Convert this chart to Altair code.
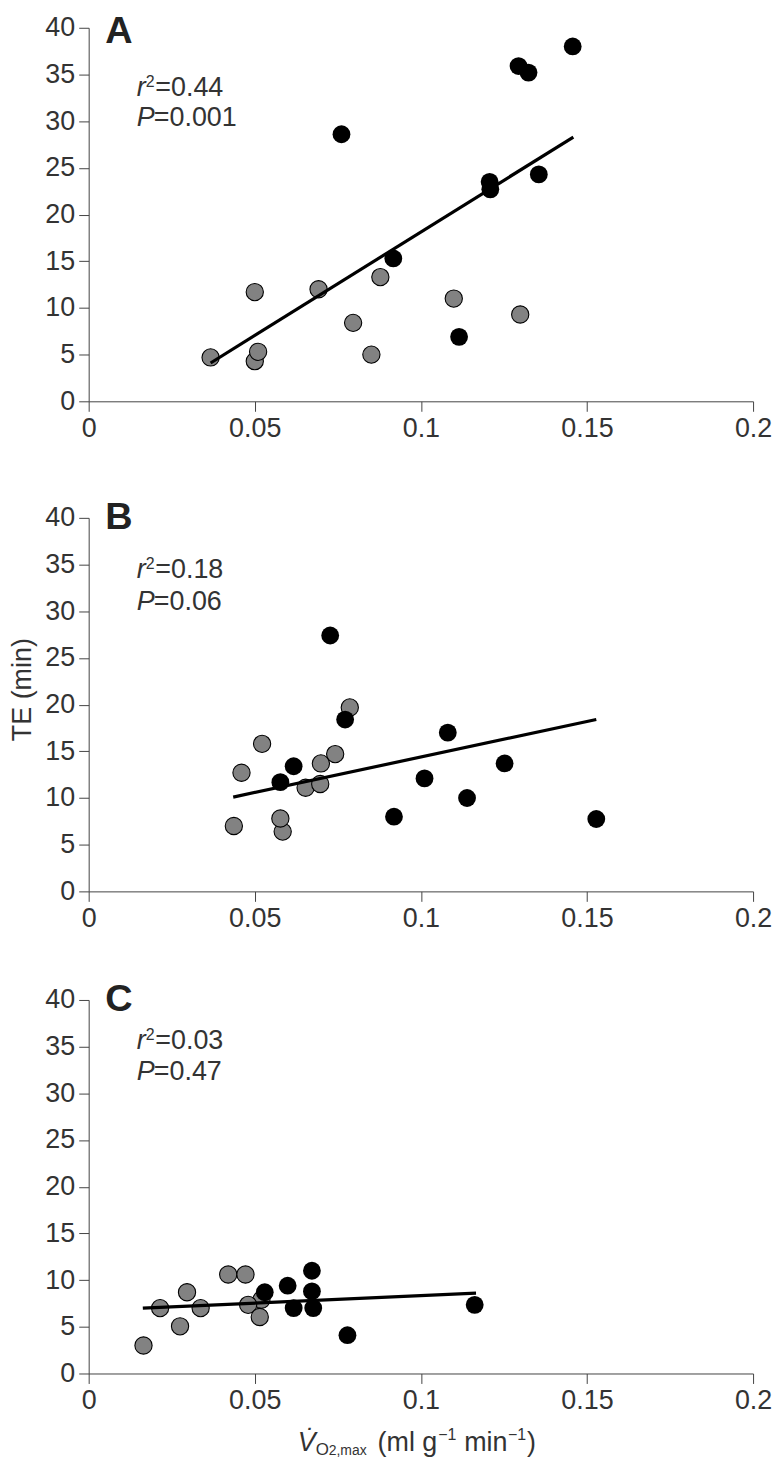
import altair as alt
import pandas as pd

FONT = "Liberation Sans"
LABEL_COLOR = "#333333"
AXIS_COLOR = "#444444"
GRAY = "#828282"

W, H = 667, 375

letters = ["A", "B", "C"]
letter_ypos = [38.4, 38.8, 38.8]
r2_values = ["0.44", "0.18", "0.03"]
p_values = ["0.001", "0.06", "0.47"]
r2_ypos = [32.7, 33.6, 34.75]
p_ypos = [29.5, 30.1, 31.4]

x_ticks = [0, 0.05, 0.1, 0.15, 0.2]
y_ticks = [0, 5, 10, 15, 20, 25, 30, 35, 40]

# Panel A
a_gray_x = [0.0367, 0.0500, 0.0510, 0.0500, 0.0692, 0.0878, 0.0796, 0.0851, 0.1099, 0.1299]
a_gray_y = [4.7, 4.3, 5.3, 11.7, 12.0, 13.3, 8.4, 5.0, 11.0, 9.3]
a_black_x = [0.0761, 0.0917, 0.1207, 0.1209, 0.1355, 0.1294, 0.1324, 0.1457, 0.1115]
a_black_y = [28.6, 15.3, 23.5, 22.7, 24.3, 35.9, 35.2, 38.0, 6.9]
a_line_x = [0.0367, 0.1459]
a_line_y = [4.1, 28.3]

# Panel B
b_gray_x = [0.0437, 0.0460, 0.0522, 0.0584, 0.0577, 0.0653, 0.0697, 0.0699, 0.0742, 0.0786]
b_gray_y = [7.0, 12.7, 15.8, 6.4, 7.8, 11.1, 11.5, 13.7, 14.7, 19.7]
b_black_x = [0.0577, 0.0617, 0.0727, 0.0772, 0.0919, 0.1011, 0.1081, 0.1139, 0.1252, 0.1528]
b_black_y = [11.7, 13.4, 27.4, 18.4, 8.0, 12.1, 17.0, 10.0, 13.7, 7.75]
b_line_x = [0.0435, 0.1528]
b_line_y = [10.1, 18.4]

# Panel C
c_gray_x = [0.0165, 0.0215, 0.0275, 0.0296, 0.0337, 0.0420, 0.0472, 0.0520, 0.0480, 0.0515]
c_gray_y = [3.0, 7.0, 5.05, 8.7, 7.0, 10.6, 10.6, 7.9, 7.35, 6.05]
c_black_x = [0.0530, 0.0599, 0.0672, 0.0672, 0.0617, 0.0676, 0.0779, 0.1162]
c_black_y = [8.7, 9.4, 11.0, 8.8, 7.0, 7.0, 4.1, 7.35]
c_line_x = [0.0163, 0.1166]
c_line_y = [7.0, 8.6]

XS = alt.Scale(domain=[0, 0.2], nice=False, zero=False)
YS = alt.Scale(domain=[0, 40], nice=False)


def make_axes(ytitle, xextra):
    xaxis = alt.Axis(
        values=x_ticks, format="~g", grid=False, tickSize=10, labelPadding=4,
        labelFontSize=27, labelFont=FONT, labelColor=LABEL_COLOR,
        domainColor=AXIS_COLOR, tickColor=AXIS_COLOR, labelFlush=False,
        title=" " if xextra else None, titleFontSize=1, titlePadding=xextra,
    )
    if ytitle:
        yaxis = alt.Axis(
            values=y_ticks, format="d", grid=False, tickSize=10, labelPadding=4,
            labelFontSize=27, labelFont=FONT, labelColor=LABEL_COLOR,
            domainColor=AXIS_COLOR, tickColor=AXIS_COLOR,
            title=ytitle, titleFont=FONT, titleFontSize=27, titleFontWeight="normal",
            titleColor=LABEL_COLOR, titleX=-52, titleY=172, titleBaseline="bottom",
            titleAngle=270,
        )
    else:
        yaxis = alt.Axis(
            values=y_ticks, format="d", grid=False, tickSize=10, labelPadding=4,
            labelFontSize=27, labelFont=FONT, labelColor=LABEL_COLOR,
            domainColor=AXIS_COLOR, tickColor=AXIS_COLOR, title=None,
        )
    return xaxis, yaxis


def txt(x, y, text, size, dx=0, dy=0, italic=False, bold=False, xa=None, ya=None):
    df = pd.DataFrame({"x": [x], "y": [y], "t": [text]})
    return alt.Chart(df).mark_text(
        font=FONT, fontSize=size, align="left", baseline="alphabetic",
        dx=dx, dy=dy, color=LABEL_COLOR if not bold else "#222222",
        fontStyle="italic" if italic else "normal",
        fontWeight="bold" if bold else "normal",
    ).encode(
        x=alt.X("x:Q", scale=XS, axis=xa),
        y=alt.Y("y:Q", scale=YS, axis=ya),
        text="t:N",
    )


def pix(x, y, text, size, italic=False):
    df = pd.DataFrame({"t": [text]})
    return alt.Chart(df).mark_text(
        font=FONT, fontSize=size, align="left", baseline="alphabetic",
        color=LABEL_COLOR, fontStyle="italic" if italic else "normal",
    ).encode(x=alt.value(x), y=alt.value(y), text="t:N")


def panel(i, gx, gy, bx, by, lx, ly, ytitle=None, xextra=0, xtitle=False):
    xa, ya = make_axes(ytitle, xextra)
    gray = alt.Chart(pd.DataFrame({"x": gx, "y": gy})).mark_circle(
        size=300, color=GRAY, opacity=1, stroke="black", strokeWidth=1.1
    ).encode(x=alt.X("x:Q", scale=XS, axis=xa), y=alt.Y("y:Q", scale=YS, axis=ya))
    black = alt.Chart(pd.DataFrame({"x": bx, "y": by})).mark_circle(
        size=320, color="black", opacity=1
    ).encode(x=alt.X("x:Q", scale=XS, axis=xa), y=alt.Y("y:Q", scale=YS, axis=ya))
    line = alt.Chart(pd.DataFrame({"x": lx, "y": ly})).mark_line(
        color="black", strokeWidth=3.2
    ).encode(x=alt.X("x:Q", scale=XS, axis=xa), y=alt.Y("y:Q", scale=YS, axis=ya))
    layers = [
        gray, black, line,
        txt(0.005, letter_ypos[i], letters[i], 38, bold=True, xa=xa, ya=ya),
        txt(0.0145, r2_ypos[i], "r", 27, italic=True, xa=xa, ya=ya),
        txt(0.0145, r2_ypos[i], "2", 16, dx=9, dy=-9, xa=xa, ya=ya),
        txt(0.0145, r2_ypos[i], "=" + r2_values[i], 27, dx=18.5, xa=xa, ya=ya),
        txt(0.0145, p_ypos[i], "P", 27, italic=True, xa=xa, ya=ya),
        txt(0.0145, p_ypos[i], "=" + p_values[i], 27, dx=17, xa=xa, ya=ya),
    ]
    if xtitle:
        layers += [
            pix(210, 453, "V\u0307", 27, italic=True),
            pix(228, 457, "O", 17),
            pix(241, 457, "2,max", 14),
            pix(290, 453, "(ml g", 27),
            pix(351, 442, "\u22121", 16),
            pix(377, 453, "min", 27),
            pix(421, 442, "\u22121", 16),
            pix(440, 453, ")", 27),
        ]
    return alt.layer(*layers).properties(width=W, height=H)


pA = panel(0, a_gray_x, a_gray_y, a_black_x, a_black_y, a_line_x, a_line_y, xextra=7)
pB = panel(1, b_gray_x, b_gray_y, b_black_x, b_black_y, b_line_x, b_line_y, ytitle="TE (min)")
pC = panel(2, c_gray_x, c_gray_y, c_black_x, c_black_y, c_line_x, c_line_y, xtitle=True)

chart = alt.vconcat(pA, pB, pC, spacing=50).properties(
    padding={"left": 1, "top": 2, "right": 0, "bottom": 0}
).configure_view(stroke=None)

chart.save("out.html", embed_options={"renderer": "svg", "actions": False})
